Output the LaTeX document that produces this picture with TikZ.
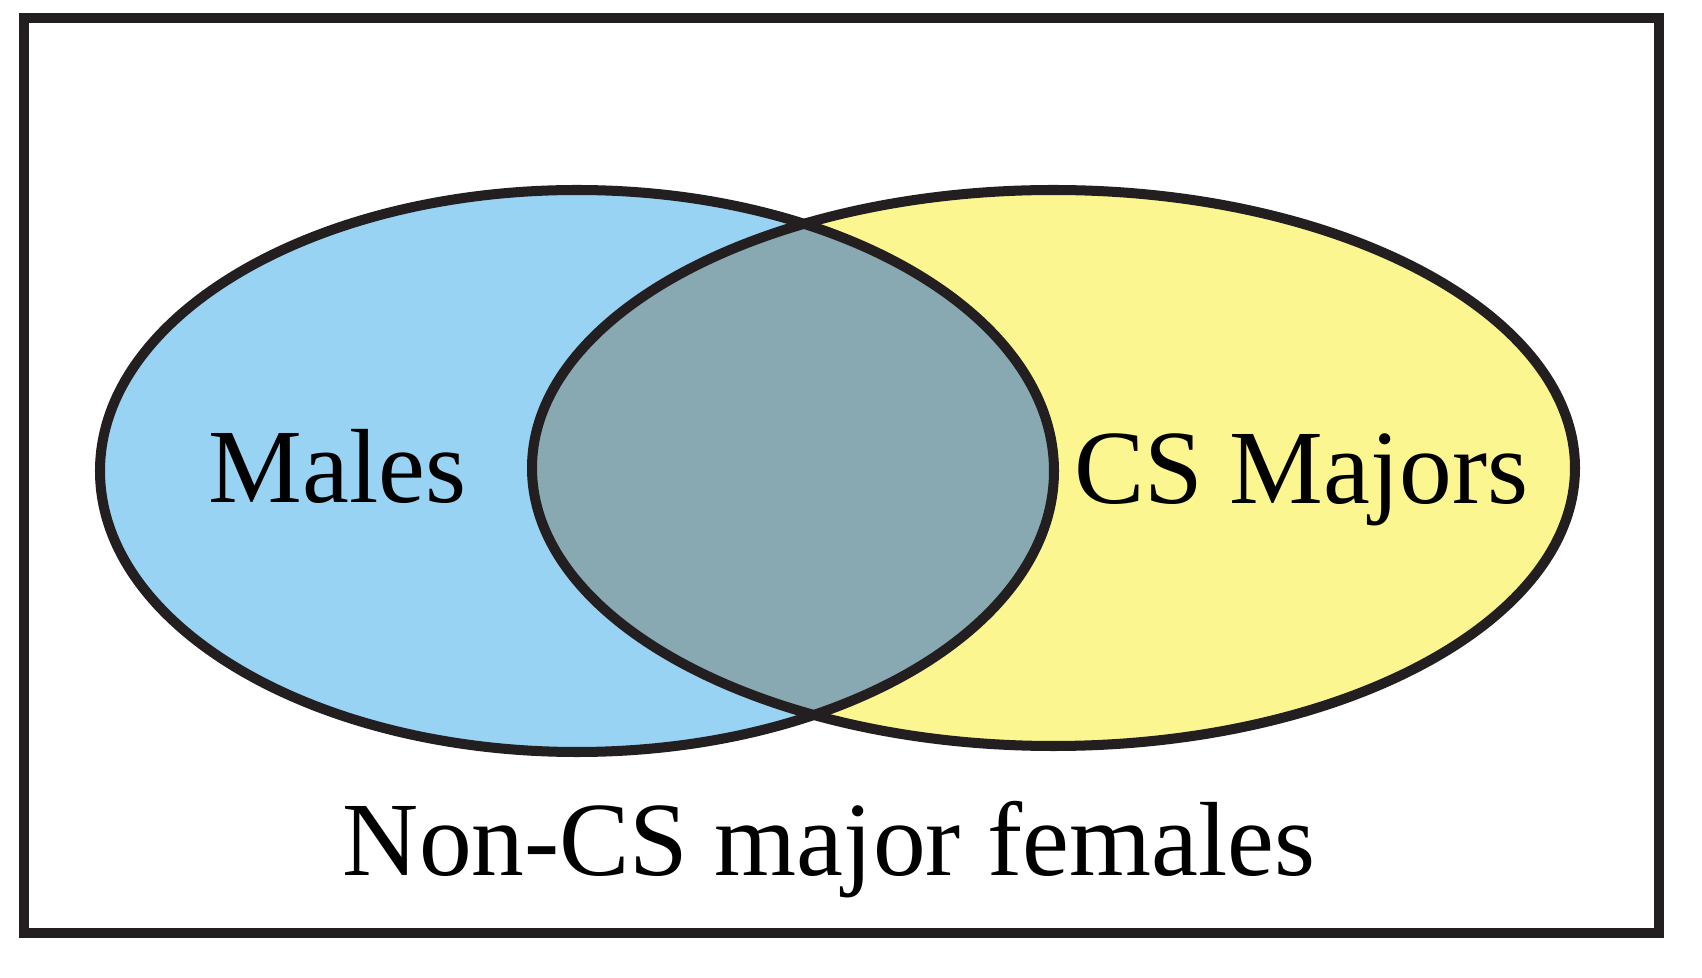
\documentclass[tikz,border=0pt]{standalone}
\usepackage{fontspec}
\setmainfont{Liberation Serif}
\definecolor{malesblue}{HTML}{99D3F3}
\definecolor{csyellow}{HTML}{FBF68F}
\definecolor{bothgrey}{HTML}{88A9B2}
\definecolor{vennline}{HTML}{231F20}
\begin{document}
\begin{tikzpicture}[venn/.style={draw=vennline,line width=2.85pt},label/.style={anchor=base,inner sep=0pt,font=\fontsize{30}{36}\selectfont}]
\useasboundingbox (0,0) rectangle (17.02,9.78);
\coordinate (lc) at (5.77,5.07);
\coordinate (rc) at (10.535,5.10);
\fill[malesblue] (lc) ellipse [x radius=4.77,y radius=2.81];
\fill[csyellow] (rc) ellipse [x radius=5.215,y radius=2.78];
\begin{scope}
\clip (lc) ellipse [x radius=4.77,y radius=2.81];
\fill[bothgrey] (rc) ellipse [x radius=5.215,y radius=2.78];
\end{scope}
\draw[venn] (lc) ellipse [x radius=4.77,y radius=2.81];
\draw[venn] (rc) ellipse [x radius=5.215,y radius=2.78];
\draw[venn] (0.24,0.45) rectangle (16.59,9.60);
\node (males) at (3.375,4.75) [label] {Males};
\node (cs) at (13.015,4.74) [label] {CS Majors};
\node (rest) at (8.29,1.02) [label] {Non-CS major females};
\end{tikzpicture}
\end{document}
